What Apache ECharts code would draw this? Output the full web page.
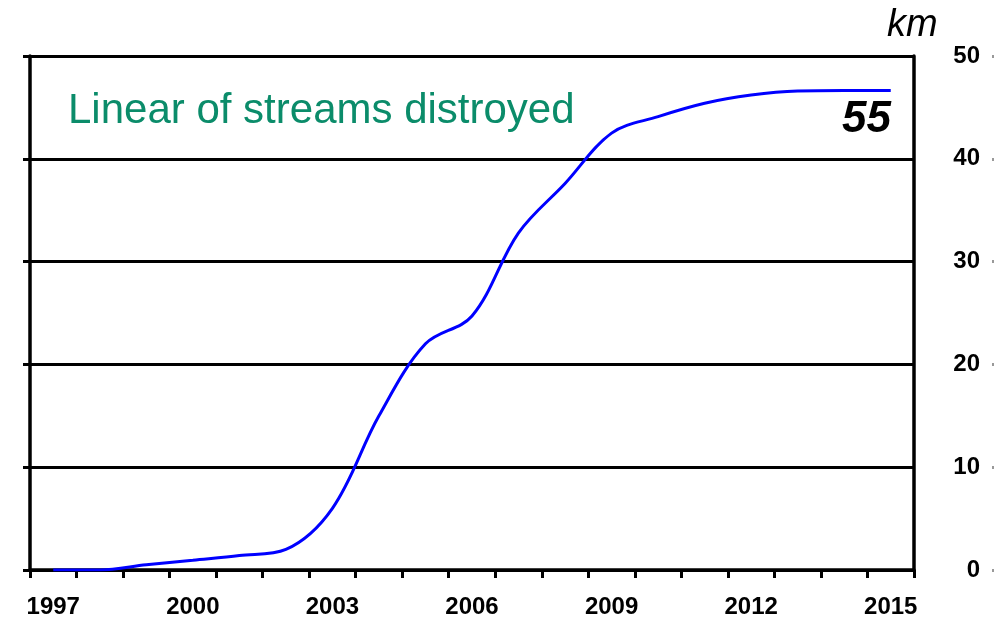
<!DOCTYPE html>
<html>
<head>
<meta charset="utf-8">
<script src="https://cdn.jsdelivr.net/npm/echarts@6/dist/echarts.min.js"></script>
<style>
html,body{margin:0;padding:0;background:#fff;}
#chart{width:1004px;height:621px;}
</style>
</head>
<body>
<div id="chart"></div>
<script>
const years = ['1997','1998','1999','2000','2001','2002','2003','2004','2005','2006','2007','2008','2009','2010','2011','2012','2013','2014','2015'];
const streamsKm = [0, 0, 0.5, 0.95, 1.4, 2.0, 6.0, 15.0, 22.0, 24.7, 32.8, 37.6, 42.5, 44.1, 45.4, 46.2, 46.6, 46.65, 46.65];
const yTicks = [0, 10, 20, 30, 40, 50];
const titleText = 'Linear of streams distroyed';
const unitText = 'km';
const totalText = '55';

const chart = echarts.init(document.getElementById('chart'));
const lab = {fontFamily: 'Arial, "Liberation Sans", sans-serif', fontWeight: 'bold', fontSize: 24, color: '#000'};
chart.setOption({
  animation: false,
  backgroundColor: '#fff',
  grid: {left: 30, right: 90, top: 56, bottom: 51, containLabel: false},
  xAxis: {
    type: 'category',
    data: years,
    boundaryGap: true,
    axisLine: {show: true, lineStyle: {color: '#000', width: 3.5}},
    axisTick: {show: true, interval: 0, inside: false, length: 8, lineStyle: {color: '#000', width: 3}},
    axisLabel: Object.assign({interval: 2, margin: 25}, lab),
    splitLine: {show: false}
  },
  yAxis: [
    {
      type: 'value', position: 'left', min: yTicks[0], max: yTicks[yTicks.length - 1], interval: 10,
      axisLine: {show: true, lineStyle: {color: '#000', width: 3.5}},
      axisTick: {show: true, length: 7, lineStyle: {color: '#000', width: 3}},
      axisLabel: {show: false},
      splitLine: {show: true, lineStyle: {color: '#000', width: 3}}
    },
    {
      type: 'value', position: 'right', min: yTicks[0], max: yTicks[yTicks.length - 1], interval: 10,
      axisLine: {show: true, lineStyle: {color: '#000', width: 3.5}},
      axisTick: {show: false},
      axisLabel: Object.assign({align: 'right', margin: 66}, lab),
      splitLine: {show: false}
    },
    {
      type: 'value', position: 'right', offset: 78, min: yTicks[0], max: yTicks[yTicks.length - 1], interval: 10,
      axisLine: {show: false},
      axisTick: {show: true, length: 2, lineStyle: {color: '#999', width: 3}},
      axisLabel: {show: false},
      splitLine: {show: false}
    }
  ],
  series: [{
    type: 'line',
    data: streamsKm,
    yAxisIndex: 0,
    smooth: 0.35,
    symbol: 'none',
    lineStyle: {color: '#0000ff', width: 3},
    z: 5
  }],
  graphic: [
    {type: 'text', left: 68, top: 90, style: {text: titleText, font: '42px Arial, "Liberation Sans", sans-serif', fill: '#0b8c6a'}},
    {type: 'text', left: 887, top: 6, style: {text: unitText, font: 'italic 38px Arial, "Liberation Sans", sans-serif', fill: '#000'}},
    {type: 'text', right: 113, top: 98, style: {text: totalText, font: 'italic bold 44px Arial, "Liberation Sans", sans-serif', fill: '#000'}}
  ]
});
</script>
</body>
</html>
